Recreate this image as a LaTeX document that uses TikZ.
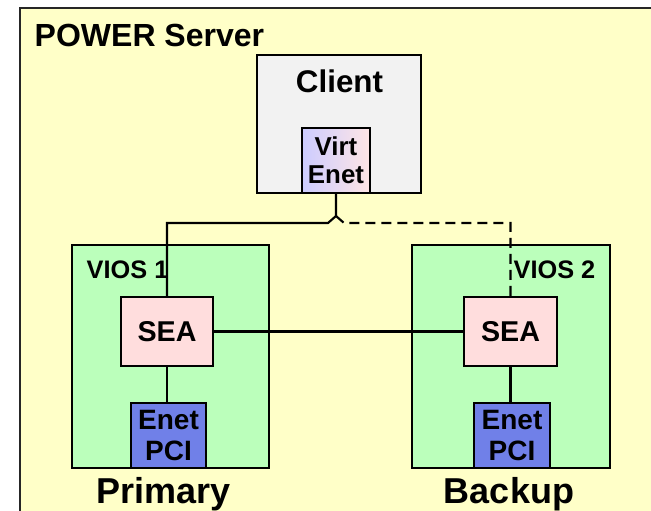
\documentclass[tikz,border=0pt]{standalone}
\usepackage{fontspec}
\setmainfont{Liberation Sans}
\usetikzlibrary{calc, positioning}
\definecolor{serverbg}{RGB}{255,255,200}
\definecolor{clientbg}{RGB}{242,242,242}
\definecolor{viosbg}{RGB}{187,255,187}
\definecolor{seabg}{RGB}{255,221,221}
\definecolor{pcibg}{RGB}{112,128,232}

\begin{document}
\begin{tikzpicture}[x=0.75pt, y=-0.75pt,
    box/.style={draw=black, line width=1.6pt, inner sep=0pt, align=center},
    lan/.style={line width=1.6pt}]
    \useasboundingbox (0,0) rectangle (651,511);
    \fill[serverbg] (20,8) rectangle (651,511);
    \draw[line width=2.2pt, black!85] (20,511) -- (20,8) -- (651,8);

    \node[anchor=base west, font=\fontsize{24}{28}\selectfont\bfseries] (server) at (30,46.5) {POWER Server};

    \node[box, fill=clientbg, minimum width=123pt, minimum height=103.5pt] (client) at (339,124) {};
    \node[anchor=base, font=\fontsize{23.5}{28}\selectfont\bfseries] (clientlbl) at (339.5,92) {Client};
    \node[box, left color=blue!20, right color=red!10, minimum width=51pt, minimum height=48.75pt,
        font=\fontsize{19.4}{21}\selectfont\bfseries] (venet) at (336,160.5) {Virt\\Enet};

    \node[box, fill=viosbg, minimum width=147.75pt, minimum height=167.25pt] (vios1) at (170.5,356.5) {};
    \node[box, fill=viosbg, minimum width=148.5pt, minimum height=167.25pt] (vios2) at (511,356.5) {};
    \node[anchor=base west, font=\fontsize{19}{22}\selectfont\bfseries] (vios1lbl) at (82,278) {VIOS 1};
    \node[anchor=base east, font=\fontsize{19}{22}\selectfont\bfseries] (vios2lbl) at (600,278) {VIOS 2};

    \node[box, fill=seabg, minimum width=69pt, minimum height=51.75pt,
        font=\fontsize{21.5}{24}\selectfont\bfseries] (sea1) at (167,331.5) {SEA};
    \node[box, fill=seabg, minimum width=69.75pt, minimum height=51.75pt,
        font=\fontsize{21.5}{24}\selectfont\bfseries] (sea2) at (510.5,331.5) {SEA};

    \node[box, fill=pcibg, minimum width=56.25pt, minimum height=48.75pt,
        font=\fontsize{21}{23}\selectfont\bfseries] (pci1) at (168.5,435.5) {Enet\\PCI};
    \node[box, fill=pcibg, minimum width=57pt, minimum height=48.75pt,
        font=\fontsize{21}{23}\selectfont\bfseries] (pci2) at (512,435.5) {Enet\\PCI};

    \node[anchor=base, font=\fontsize{27}{32}\selectfont\bfseries] (primary) at (163.5,503) {Primary};
    \node[anchor=base, font=\fontsize{27}{32}\selectfont\bfseries] (backup) at (509,503) {Backup};

    \coordinate (hop) at (336,216);
    \draw[lan] (venet.south) -- (hop) -- ++(-8,7) -| (sea1.north);
    \draw[lan, dash pattern=on 7.5pt off 4.5pt] (hop) -- ++(8,7) -| (sea2.north);
    \draw[lan] (sea1.east) -- (sea2.west);
    \draw[lan] (sea1.south) -- (sea1.south |- pci1.north);
    \draw[lan] (sea2.south) -- (sea2.south |- pci2.north);
\end{tikzpicture}
\end{document}
